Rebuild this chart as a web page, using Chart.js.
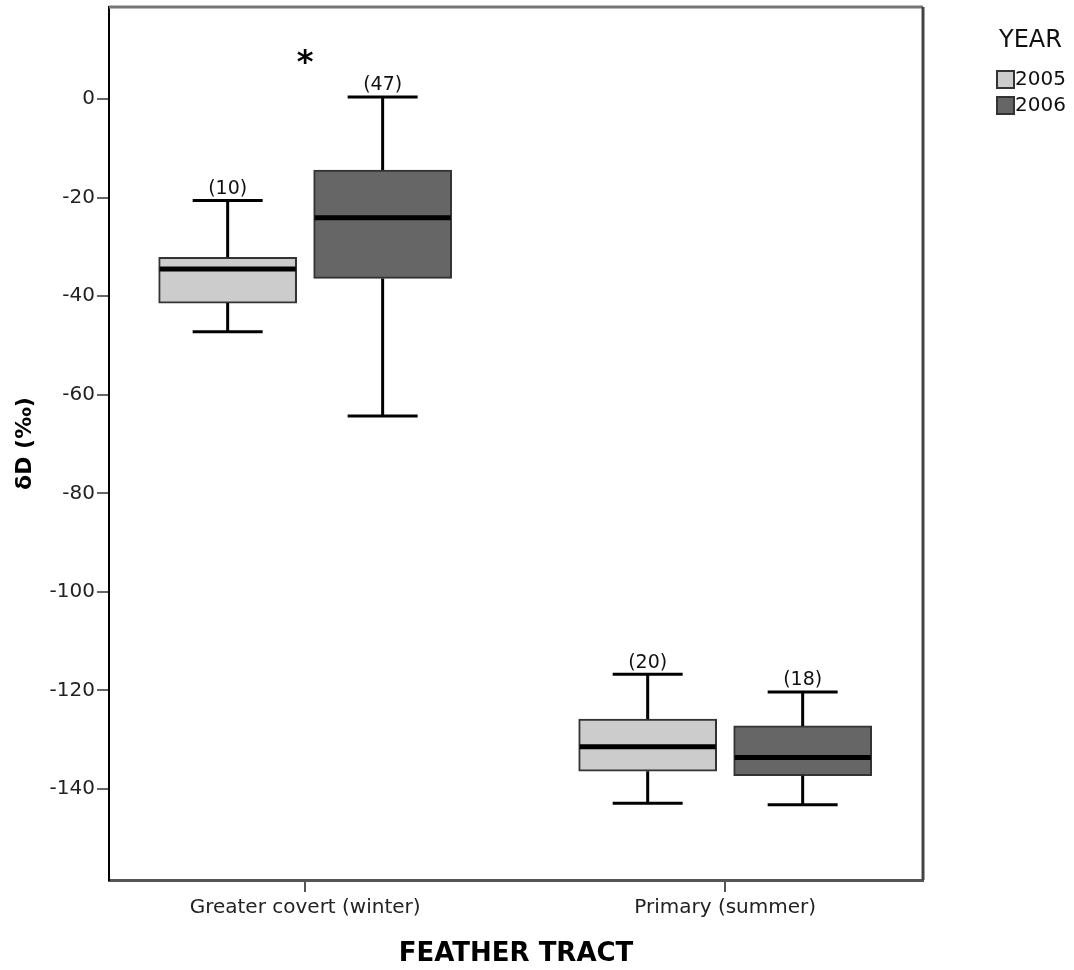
<!DOCTYPE html>
<html>
<head>
<meta charset="utf-8">
<script src="https://cdn.jsdelivr.net/npm/chart.js@4"></script>
<style>
  html, body { margin: 0; padding: 0; background: #fff; }
  #wrap { width: 1074px; height: 970px; }
</style>
</head>
<body>
<div id="wrap"><canvas id="myChart" width="1074" height="970"></canvas></div>
<script>
// datos
const categories = ["Greater covert (winter)", "Primary (summer)"];
const years = ["2005", "2006"];

const low2005 = [-47.2, -142.9];
const q1_2005 = [-41.4, -136.4];
const med2005 = [-34.5, -131.4];
const q3_2005 = [-32.1, -125.8];
const high2005 = [-20.6, -116.7];
const n2005 = [10, 20];

const low2006 = [-64.3, -143.2];
const q1_2006 = [-36.4, -137.3];
const med2006 = [-24.1, -133.6];
const q3_2006 = [-14.4, -127.2];
const high2006 = [0.4, -120.3];
const n2006 = [47, 18];

const yTicks = [0, -20, -40, -60, -80, -100, -120, -140];
const sigCategory = 0;
const sigValue = 8.5;

const fills = ["#cccccc", "#666666"];
const offsets = [-0.1845, 0.1845];
const FONT = "'DejaVu Sans', sans-serif";

const series = [
  { low: low2005, q1: q1_2005, med: med2005, q3: q3_2005, high: high2005, n: n2005 },
  { low: low2006, q1: q1_2006, med: med2006, q3: q3_2006, high: high2006, n: n2006 }
];

// bigotes, medianas, etiquetas (n), marco y leyenda
const boxExtras = {
  id: "boxExtras",
  afterDatasetsDraw(chart) {
    const { ctx, scales: { x, y }, chartArea } = chart;
    ctx.save();
    series.forEach((s, d) => {
      categories.forEach((c, i) => {
        const cx = x.getPixelForValue(i + offsets[d]);
        const half = 138 / 2;
        const cap = 35;
        ctx.strokeStyle = "#000";
        ctx.lineWidth = 3;
        ctx.beginPath();
        ctx.moveTo(cx, y.getPixelForValue(s.q3[i]));
        ctx.lineTo(cx, y.getPixelForValue(s.high[i]));
        ctx.moveTo(cx, y.getPixelForValue(s.q1[i]));
        ctx.lineTo(cx, y.getPixelForValue(s.low[i]));
        ctx.moveTo(cx - cap, y.getPixelForValue(s.high[i]));
        ctx.lineTo(cx + cap, y.getPixelForValue(s.high[i]));
        ctx.moveTo(cx - cap, y.getPixelForValue(s.low[i]));
        ctx.lineTo(cx + cap, y.getPixelForValue(s.low[i]));
        ctx.stroke();

        ctx.lineWidth = 5;
        ctx.beginPath();
        ctx.moveTo(cx - half + 1, y.getPixelForValue(s.med[i]));
        ctx.lineTo(cx + half - 1, y.getPixelForValue(s.med[i]));
        ctx.stroke();

        ctx.fillStyle = "#111";
        ctx.font = "19px " + FONT;
        ctx.textAlign = "center";
        ctx.textBaseline = "bottom";
        ctx.fillText("(" + s.n[i] + ")", cx, y.getPixelForValue(s.high[i]) - 2);
      });
    });

    // asterisco de significancia
    ctx.fillStyle = "#000";
    ctx.font = "bold 32px " + FONT;
    ctx.textAlign = "center";
    ctx.textBaseline = "middle";
    ctx.fillText("*", x.getPixelForValue(sigCategory), y.getPixelForValue(sigValue) + 7);

    // marco superior y derecho
    ctx.lineWidth = 3;
    ctx.strokeStyle = "#777";
    ctx.beginPath();
    ctx.moveTo(chartArea.left, chartArea.top);
    ctx.lineTo(chartArea.right, chartArea.top);
    ctx.stroke();
    ctx.strokeStyle = "#444";
    ctx.beginPath();
    ctx.moveTo(chartArea.right, chartArea.top);
    ctx.lineTo(chartArea.right, chartArea.bottom);
    ctx.stroke();

    // leyenda
    ctx.fillStyle = "#111";
    ctx.font = "24px " + FONT;
    ctx.textAlign = "left";
    ctx.textBaseline = "middle";
    ctx.fillText("YEAR", 999, 41);
    years.forEach((yr, k) => {
      const top = 71 + k * 26;
      ctx.fillStyle = fills[k];
      ctx.fillRect(997, top, 17, 17);
      ctx.strokeStyle = "#333";
      ctx.lineWidth = 2;
      ctx.strokeRect(997, top, 17, 17);
      ctx.fillStyle = "#111";
      ctx.font = "20px " + FONT;
      ctx.fillText(yr, 1015, top + 9);
    });
    ctx.restore();
  }
};

const datasets = series.map((s, d) => ({
  label: years[d],
  data: categories.map((c, i) => ({ x: i + offsets[d], y: [s.q1[i], s.q3[i]] })),
  backgroundColor: fills[d],
  borderColor: "#333",
  borderWidth: 2,
  borderSkipped: false,
  barThickness: 138,
  grouped: false
}));

const ctx = document.getElementById("myChart").getContext("2d");
new Chart(ctx, {
  type: "bar",
  data: { datasets },
  plugins: [boxExtras],
  options: {
    responsive: false,
    animation: false,
    layout: { padding: { top: 7, right: 151, left: 0, bottom: 0 } },
    plugins: { legend: { display: false }, tooltip: { enabled: false } },
    scales: {
      x: {
        type: "linear",
        offset: false,
        min: -0.467,
        max: 1.471,
        afterBuildTicks: (scale) => { scale.ticks = categories.map((c, i) => ({ value: i })); },
        afterFit: (scale) => { scale.height = 90; scale.paddingLeft = 0; scale.paddingRight = 0; },
        ticks: {
          callback: (v) => categories[v],
          color: "#222",
          font: { family: FONT, size: 20 },
          padding: 4,
          maxRotation: 0,
          autoSkip: false
        },
        grid: { offset: false, drawOnChartArea: false, drawTicks: true, tickLength: 12, color: "#555", lineWidth: 2 },
        border: { display: true, color: "#555", width: 3 },
        title: {
          display: true,
          text: "FEATHER TRACT",
          color: "#000",
          font: { family: FONT, size: 26, weight: "bold" },
          padding: { top: 0, bottom: 0 }
        }
      },
      y: {
        min: -158.46,
        max: 18.67,
        afterBuildTicks: (scale) => { scale.ticks = yTicks.map(v => ({ value: v })); },
        afterFit: (scale) => { scale.width = 109; scale.paddingTop = 0; scale.paddingBottom = 0; },
        ticks: {
          callback: (v) => String(v),
          color: "#222",
          font: { family: FONT, size: 20 },
          padding: 2
        },
        grid: { drawOnChartArea: false, drawTicks: true, tickLength: 12, color: "#666", lineWidth: 2 },
        border: { display: true, color: "#000", width: 2 },
        title: {
          display: true,
          text: "δD (‰)",
          color: "#000",
          font: { family: FONT, size: 22, weight: "bold" },
          padding: { top: 12, bottom: 0 }
        }
      }
    }
  }
});
</script>
</body>
</html>
